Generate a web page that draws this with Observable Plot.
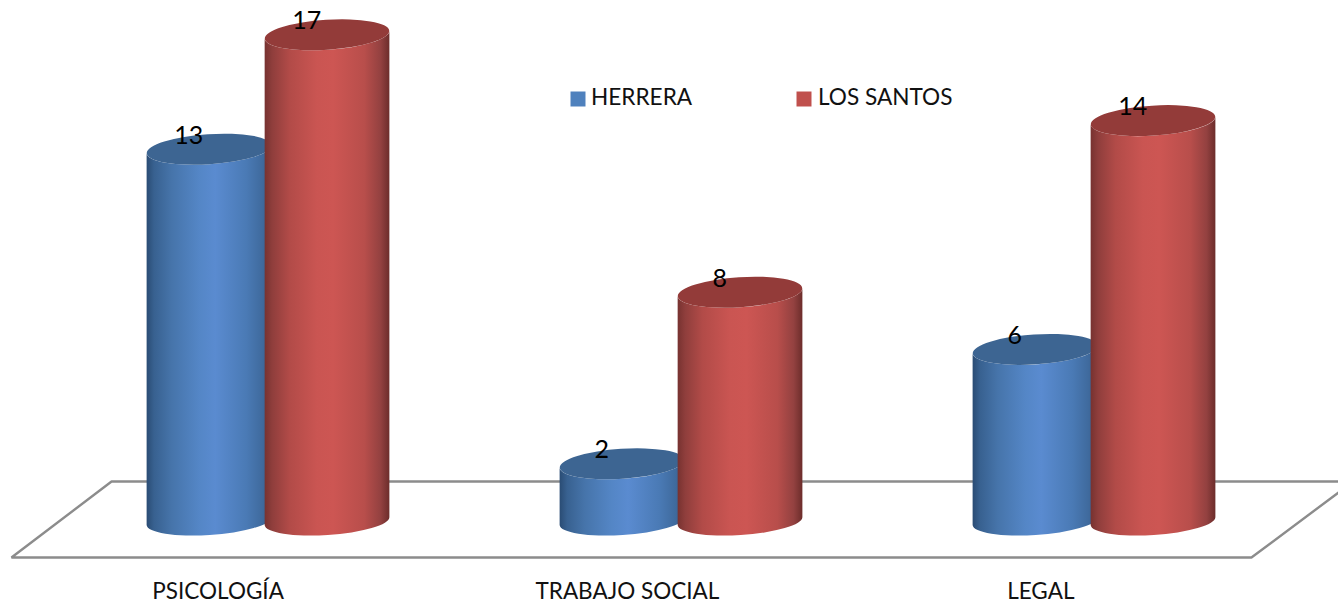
<!DOCTYPE html>
<html>
<head>
<meta charset="utf-8">
<script src="https://cdn.jsdelivr.net/npm/d3@7"></script>
<script src="https://cdn.jsdelivr.net/npm/@observablehq/plot@0.6"></script>
<style>
html,body{margin:0;padding:0;background:#fff}
svg{display:block}
</style>
</head>
<body>
<div id="chart"></div>
<script>
const categories = ["PSICOLOGÍA", "TRABAJO SOCIAL", "LEGAL"];
const seriesNames = ["HERRERA", "LOS SANTOS"];
const herrera = [13, 2, 6];
const losSantos = [17, 8, 14];

const seriesStyle = {
  "HERRERA": {top: "#3d6592", legend: "#4f81bd",
    stops: [[0,"#2a4c74"],[0.06,"#386190"],[0.2,"#4674aa"],[0.42,"#5486c6"],[0.55,"#5a8bd0"],[0.8,"#4a7ab5"],[0.93,"#3f6a9d"],[1,"#345a87"]]},
  "LOS SANTOS": {top: "#933b39", legend: "#c0504d",
    stops: [[0,"#773230"],[0.06,"#8f3e3c"],[0.2,"#b24b48"],[0.42,"#ca5552"],[0.55,"#cd5653"],[0.8,"#b84e4b"],[0.93,"#934140"],[1,"#6c2d2b"]]}
};

const rows = categories.flatMap((c, i) => [
  {category: c, index: i, series: seriesNames[0], value: herrera[i], center: i - 0.1429},
  {category: c, index: i, series: seriesNames[1], value: losSantos[i], center: i + 0.1429}
]);

const halfWidth = 0.151;
const labelShift = [-0.122, -0.131, -0.13];
const floorOutline = [
  {x: 2.591, y: 1.014},
  {x: 2.380, y: -1.2587},
  {x: -0.6223, y: -1.2587},
  {x: -0.380, y: 1.3986},
  {x: 2.591, y: 1.3986}
];

function cylinders(index, scales, values) {
  const svgns = "http://www.w3.org/2000/svg";
  const g = document.createElementNS(svgns, "g");
  const defs = document.createElementNS(svgns, "defs");
  g.appendChild(defs);
  seriesNames.forEach((s, k) => {
    const lg = document.createElementNS(svgns, "linearGradient");
    lg.setAttribute("id", "cyl" + k);
    lg.setAttribute("x1", "0"); lg.setAttribute("x2", "1");
    lg.setAttribute("y1", "0"); lg.setAttribute("y2", "0");
    for (const [o, c] of seriesStyle[s].stops) {
      const st = document.createElementNS(svgns, "stop");
      st.setAttribute("offset", o); st.setAttribute("stop-color", c);
      lg.appendChild(st);
    }
    defs.appendChild(lg);
  });
  const rise = 4, ryTop = 15, ryBottom = 14, tilt = -3.7;
  for (const i of index) {
    const xl = values.x1[i], xr = values.x2[i];
    const yb = values.y1[i], yt = values.y2[i];
    const rx = (xr - xl) / 2, cx = (xl + xr) / 2;
    const k = seriesNames.indexOf(rows[i].series);
    const body = document.createElementNS(svgns, "path");
    body.setAttribute("d",
      `M${xl},${yt + rise} L${xl},${yb + rise} ` +
      `A${rx},${ryBottom} ${tilt} 0 0 ${xr},${yb - rise} ` +
      `L${xr},${yt - rise} ` +
      `A${rx},${ryTop} ${tilt} 0 1 ${xl},${yt + rise} Z`);
    body.setAttribute("fill", `url(#cyl${k})`);
    g.appendChild(body);
    const top = document.createElementNS(svgns, "ellipse");
    top.setAttribute("cx", cx); top.setAttribute("cy", yt);
    top.setAttribute("rx", rx); top.setAttribute("ry", ryTop);
    top.setAttribute("transform", `rotate(${tilt} ${cx} ${yt})`);
    top.setAttribute("fill", seriesStyle[rows[i].series].top);
    g.appendChild(top);
  }
  return g;
}

const legendOffsets = [{sx: 577.5, tx: 590.5}, {sx: 803.5, tx: 817.5}];
const legendMarks = seriesNames.flatMap((s, k) => [
  Plot.dot([s], {frameAnchor: "top-left", dx: legendOffsets[k].sx, dy: 98.5, symbol: "square", r: 8.46,
    fill: seriesStyle[s].legend, stroke: "none"}),
  Plot.text([s], {frameAnchor: "top-left", dx: legendOffsets[k].tx, dy: 97.5, text: d => d, textAnchor: "start",
    lineAnchor: "middle", fontSize: 22.6, fill: "#111"})
]);

const chart = Plot.plot({
  width: 1338,
  height: 603,
  marginLeft: 0, marginRight: 0, marginTop: 0, marginBottom: 0,
  style: {background: "#fff", fontFamily: "Lato, 'Open Sans', sans-serif"},
  x: {domain: [0, 2], range: [268, 1094], axis: null},
  y: {domain: [-2.867, 18.217], range: [603, 0], axis: null},
  marks: [
    Plot.line(floorOutline, {x: "x", y: "y", stroke: "#8c8c8c", strokeWidth: 2.4, strokeLinejoin: "miter"}),
    Plot.rect(rows, {
      x1: d => d.center - halfWidth,
      x2: d => d.center + halfWidth,
      y1: () => 0,
      y2: "value",
      render: cylinders
    }),
    Plot.text(rows, {x: d => d.center - 0.0505, y: "value", dy: -14, text: d => String(d.value),
      fontSize: 25, fill: "#000", lineAnchor: "middle"}),
    Plot.text(categories, {x: (d, i) => i + labelShift[i], frameAnchor: "bottom", dy: -12, text: d => d,
      fontSize: 22.5, fill: "#111", lineAnchor: "middle"}),
    ...legendMarks
  ]
});
document.getElementById("chart").appendChild(chart);
</script>
</body>
</html>
